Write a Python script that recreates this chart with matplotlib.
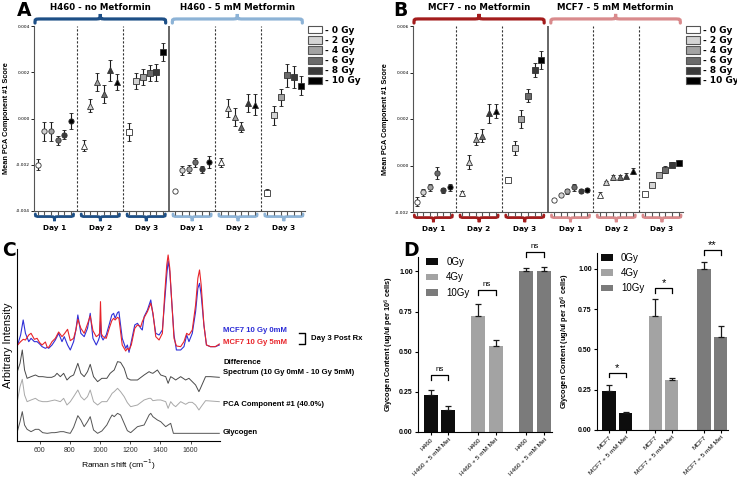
import numpy as np
import matplotlib
matplotlib.use('Agg')
import matplotlib.pyplot as plt
import matplotlib.transforms as mtransforms
from matplotlib.path import Path
from matplotlib.patches import PathPatch, Patch
from matplotlib.lines import Line2D

plt.rcParams['font.family'] = ['Liberation Sans', 'DejaVu Sans']

# ---------------- data: panels A / B (mean PCA score, 6 groups x 6 doses)
doses = ['- 0 Gy', '- 2 Gy', '- 4 Gy', '- 6 Gy', '- 8 Gy', '- 10 Gy']
dose_colors = ['#ffffff', '#d4d4d4', '#a3a3a3', '#6b6b6b', '#3a3a3a', '#000000']
days = ['Day 1', 'Day 2', 'Day 3']
day_markers = ['o', '^', 's']

h460_mean = [
    [-0.00199, -0.00056, -0.00056, -0.00094, -0.00070, -0.00012],
    [-0.00117, 0.00056, 0.00157, 0.00105, 0.00209, 0.00158],
    [-0.00059, 0.00163, 0.00180, 0.00197, 0.00199, 0.00288],
    [-0.00312, -0.00224, -0.00219, -0.00190, -0.00220, -0.00187],
    [-0.00190, 0.00046, 0.00006, -0.00037, 0.00066, 0.00059],
    [-0.00320, 0.00014, 0.00091, 0.00186, 0.00180, 0.00142],
]
h460_err = [
    [0.00024, 0.00040, 0.00040, 0.00020, 0.00020, 0.00035],
    [0.00025, 0.00030, 0.00040, 0.00040, 0.00045, 0.00035],
    [0.00040, 0.00035, 0.00035, 0.00035, 0.00035, 0.00040],
    [0.00000, 0.00020, 0.00018, 0.00018, 0.00015, 0.00025],
    [0.00018, 0.00040, 0.00040, 0.00020, 0.00038, 0.00045],
    [0.00015, 0.00040, 0.00035, 0.00048, 0.00048, 0.00040],
]
mcf7_mean = [
    [-0.00156, -0.00116, -0.00094, -0.00033, -0.00107, -0.00094],
    [-0.00120, 0.00017, 0.00113, 0.00129, 0.00224, 0.00233],
    [-0.00061, 0.00074, 0.00200, 0.00301, 0.00410, 0.00454],
    [-0.00147, -0.00127, -0.00111, -0.00094, -0.00110, -0.00106],
    [-0.00126, -0.00073, -0.00051, -0.00051, -0.00044, -0.00023],
    [-0.00123, -0.00083, -0.00039, -0.00019, 0.00004, 0.00011],
]
mcf7_err = [
    [0.00020, 0.00015, 0.00015, 0.00025, 0.00012, 0.00015],
    [0.00012, 0.00030, 0.00025, 0.00030, 0.00040, 0.00030],
    [0.00010, 0.00030, 0.00038, 0.00030, 0.00030, 0.00040],
    [0.00000, 0.00005, 0.00010, 0.00015, 0.00010, 0.00008],
    [0.00010, 0.00005, 0.00010, 0.00010, 0.00010, 0.00012],
    [0.00010, 0.00010, 0.00005, 0.00015, 0.00012, 0.00012],
]

# ---------------- data: panel C (spectra, arbitrary offset units)
raman_top = [452, 474, 491, 506, 528, 543, 565, 583, 600, 616, 638, 650, 660, 682, 704,
             726, 748, 763, 785, 803, 825, 840, 853, 873, 895, 917, 935, 953, 975, 990,
             997, 1003, 1009, 1020, 1041, 1063, 1078, 1090, 1100, 1116, 1125, 1136, 1147,
             1170, 1181, 1192, 1207, 1230, 1248, 1270, 1280, 1292, 1314, 1336, 1351, 1369,
             1391, 1413, 1428, 1442, 1451, 1462, 1475, 1490, 1506, 1534, 1556, 1574, 1589,
             1611, 1633, 1648, 1659, 1670, 1688, 1705, 1731, 1764, 1790]
mcf7_0mM = [285, 318, 363, 323, 298, 308, 298, 298, 291, 283, 278, 281, 278, 288, 303,
            323, 298, 313, 288, 273, 298, 333, 378, 323, 313, 338, 383, 308, 288, 303,
            313, 360, 313, 303, 318, 353, 378, 383, 368, 385, 388, 348, 308,
            278, 288, 266, 298, 348, 353, 338, 333, 373, 393, 423, 378, 323,
            318, 333, 418, 498, 540, 508, 418, 318, 273, 273, 283, 318, 298,
            323, 388, 458, 473, 438, 348, 288, 283, 283, 288]
mcf7_5mM = [287, 298, 305, 303, 318, 323, 305, 308, 295, 288, 297, 281, 281, 298, 308,
            327, 313, 321, 335, 301, 308, 333, 365, 338, 323, 351, 375, 331, 313, 318,
            323, 418, 321, 313, 308, 341, 361, 368, 363, 371, 368, 328, 288,
            270, 278, 273, 288, 338, 348, 343, 358, 370, 388, 413, 383, 313,
            303, 323, 438, 528, 558, 518, 418, 308, 285, 283, 298, 323, 318,
            333, 408, 488, 513, 468, 348, 288, 283, 283, 291]

raman_low = [452, 470, 485, 500, 517, 543, 572, 594, 620, 650, 680, 700, 715, 737, 759,
             781, 803, 825, 853, 873, 895, 917, 935, 957, 984, 1012, 1045, 1067, 1080,
             1094, 1116, 1136, 1160, 1181, 1203, 1248, 1292, 1325, 1336, 1350, 1380, 1402,
             1435, 1451, 1468, 1486, 1501, 1534, 1567, 1589, 1611, 1633, 1655, 1670, 1699,
             1731, 1790]
difference = [208, 233, 273, 213, 188, 193, 198, 193, 193, 191, 191, 195, 203, 193, 203,
              183, 193, 198, 233, 203, 193, 208, 230, 193, 178, 188, 188, 203, 208,
              213, 238, 236, 218, 188, 183, 183, 198, 208, 205, 203, 213, 198,
              193, 173, 193, 188, 183, 193, 183, 188, 178, 168, 148, 163, 193,
              193, 191]
pca_comp1 = [118, 163, 185, 138, 118, 123, 128, 121, 118, 118, 121, 123, 121, 118, 128,
             108, 118, 133, 153, 133, 123, 133, 153, 118, 108, 118, 118, 133, 143,
             148, 158, 148, 133, 115, 103, 108, 123, 128, 128, 121, 123, 123,
             118, 98, 118, 108, 103, 118, 110, 116, 116, 108, 93, 103, 121,
             120, 118]
glycogen = [28, 58, 88, 48, 35, 28, 35, 35, 25, 23, 25, 25, 26, 28, 28,
            25, 23, 41, 76, 63, 43, 58, 73, 33, 23, 30, 48, 68, 78,
            73, 83, 78, 53, 31, 25, 43, 48, 78, 83, 73, 63, 58,
            43, 48, 53, 23, 23, 23, 23, 23, 23, 23, 23, 23, 23,
            23, 23]

# ---------------- data: panel D (glycogen content)
gly_legend = ['0Gy', '4Gy', '10Gy']
gly_colors = ['#0d0d0d', '#a3a3a3', '#7b7b7b']
h460_labels = ['H460', 'H460 + 5 mM Met'] * 3
h460_gly = [0.23, 0.14, 0.72, 0.535, 1.00, 1.00]
h460_gly_err = [0.03, 0.025, 0.08, 0.04, 0.02, 0.025]
h460_sig = ['ns', 'ns', 'ns']
mcf7_labels = ['MCF7', 'MCF7 + 5 mM Met'] * 3
mcf7_gly = [0.24, 0.105, 0.71, 0.31, 1.00, 0.575]
mcf7_gly_err = [0.04, 0.005, 0.10, 0.01, 0.04, 0.07]
mcf7_sig = ['*', '*', '**']

W, H = 737, 482
fig = plt.figure(figsize=(W / 100, H / 100), dpi=100)


def px_axes(l, t, r, b):
    return fig.add_axes([l / W, 1 - b / H, (r - l) / W, (b - t) / H])


def brace(ax, x0, x1, y0, y1, y2, r, color, lw):
    xm = (x0 + x1) / 2
    verts = [(x0, y0), (x0, y1), (x0, y1), (x0 + r, y1), (xm - r, y1),
             (xm, y1), (xm, y1), (xm, y2),
             (xm, y1), (xm, y1), (xm + r, y1), (x1 - r, y1),
             (x1, y1), (x1, y1), (x1, y0)]
    C, L = Path.CURVE4, Path.LINETO
    codes = [Path.MOVETO, C, C, C, L, C, C, C, C, C, C, L, C, C, C]
    trans = mtransforms.blended_transform_factory(ax.transData, ax.transAxes)
    ax.add_patch(PathPatch(Path(verts, codes), fill=False, ec=color, lw=lw,
                           transform=trans, clip_on=False, capstyle='round'))


def pca_panel(ax, means, errs, titles, dark, light, yticks):
    step = 6.85
    xs_all = []
    for g in range(6):
        xs = [g * step + i for i in range(6)]
        xs_all += xs
        for i in range(6):
            ms = [3.8, 4.3, 4.4][g % 3]
            ax.errorbar(xs[i], means[g][i], yerr=errs[g][i], fmt=day_markers[g % 3],
                        ms=ms, mfc=dose_colors[i], mec='#333333', mew=0.6,
                        ecolor='#1a1a1a', elinewidth=0.8, capsize=1.6, capthick=0.8)
        col = dark if g < 3 else light
        brace(ax, xs[0] - 0.35, xs[-1] + 0.35, -0.016, -0.03, -0.055, 0.8, col, 2.0)
        trans = mtransforms.blended_transform_factory(ax.transData, ax.transAxes)
        ax.text((xs[0] + xs[-1]) / 2, -0.093, days[g % 3], transform=trans,
                ha='center', va='center', fontsize=5.3, fontweight='bold',
                family='DejaVu Sans')
    for g in [1, 2, 4, 5]:
        ax.axvline(g * step - 0.925, color='#333333', lw=0.8, ls=(0, (2, 1.6)))
    ax.axvline(3 * step - 0.925, color='#666666', lw=1.4)
    brace(ax, -0.4, 19.1, 1.016, 1.038, 1.065, 0.9, dark, 2.3)
    brace(ax, 20.1, 39.5, 1.016, 1.038, 1.065, 0.9, light, 2.3)
    trans = mtransforms.blended_transform_factory(ax.transData, ax.transAxes)
    ax.text(9.35, 1.10, titles[0], transform=trans, ha='center', va='center',
            fontsize=6.2, fontweight='bold', family='DejaVu Sans')
    ax.text(29.8, 1.10, titles[1], transform=trans, ha='center', va='center',
            fontsize=6.2, fontweight='bold', family='DejaVu Sans')
    ax.set_xlim(-0.55, 39.9)
    ax.set_ylim(yticks[0], yticks[-1])
    ax.set_xticks(xs_all)
    ax.set_xticklabels([])
    ax.set_yticks(yticks)
    ax.set_yticklabels(['%.3f' % v for v in yticks], fontsize=3.2, family='DejaVu Sans')
    ax.tick_params(axis='x', length=3, width=0.8, color='#555555')
    ax.tick_params(axis='y', length=2, width=0.6, pad=1)
    for s in ['top', 'right']:
        ax.spines[s].set_visible(False)
    for s in ['left', 'bottom']:
        ax.spines[s].set_color('#555555')
    ax.set_ylabel('Mean PCA Component #1 Score', fontsize=5.3, fontweight='bold', labelpad=4)
    handles = [Patch(fc=c, ec='#555555', lw=0.8) for c in dose_colors]
    ax.legend(handles, doses, loc='upper left', bbox_to_anchor=(1.01, 1.0), frameon=False,
              prop=dict(family='DejaVu Sans', weight='bold', size=6.5), handlelength=1.6,
              handleheight=0.85, handletextpad=0.3, labelspacing=0.12, borderaxespad=0,
              borderpad=0)


axa = px_axes(34, 26, 305, 211)
pca_panel(axa, h460_mean, h460_err, ['H460 - no Metformin', 'H460 - 5 mM Metformin'],
          '#1d4f86', '#8db3d6', [-0.004, -0.002, 0.0, 0.002, 0.004])
axb = px_axes(413, 26, 683, 212)
pca_panel(axb, mcf7_mean, mcf7_err, ['MCF7 - no Metformin', 'MCF7 - 5 mM Metformin'],
          '#a31c1c', '#d98a8c', [-0.002, 0.0, 0.002, 0.004, 0.006])

# ---------------- panel C
axc = px_axes(17, 249.3, 219.6, 441)
axc.plot(raman_top, mcf7_0mM, color='#3030d8', lw=0.8)
axc.plot(raman_top, mcf7_5mM, color='#e8242a', lw=0.8)
axc.plot(raman_low, difference, color='#4a4a4a', lw=0.7)
axc.plot(raman_low, pca_comp1, color='#a8a8a8', lw=0.7)
axc.plot(raman_low, glycogen, color='#555555', lw=0.7)
axc.set_xlim(450, 1792)
axc.set_ylim(0, 575)
axc.set_yticks([])
axc.set_xticks([600, 800, 1000, 1200, 1400, 1600])
axc.tick_params(axis='x', labelsize=5, length=2, width=0.6, pad=2, colors='#333333')
for s in ['top', 'right']:
    axc.spines[s].set_visible(False)
axc.set_ylabel('Arbitrary Intensity', fontsize=7.8, labelpad=3)
axc.set_xlabel('Raman shift (cm$^{-1}$)', fontsize=6.1, labelpad=3)

lab = dict(fontsize=5.6, fontweight='bold', va='center', ha='left')
fig.text(223 / W, 1 - 331 / H, 'MCF7 10 Gy 0mM', color='#2b2bd6', **lab)
fig.text(223 / W, 1 - 343 / H, 'MCF7 10 Gy 5mM', color='#e8242a', **lab)
fig.add_artist(Line2D(np.array([299, 305, 305, 299]) / W,
                      1 - np.array([333, 333, 344, 344]) / H, color='k', lw=1.0))
fig.text(311 / W, 1 - 338.5 / H, 'Day 3 Post Rx', **lab)
fig.text(223 / W, 1 - 362 / H, 'Difference', **lab)
fig.text(223 / W, 1 - 373 / H, 'Spectrum (10 Gy 0mM - 10 Gy 5mM)', **lab)
fig.text(223 / W, 1 - 405 / H, 'PCA Component #1 (40.0%)', **lab)
fig.text(223 / W, 1 - 432 / H, 'Glycogen', **lab)


# ---------------- panel D
def glyco_panel(ax, xpos, vals, errs, labels, sig, sig_y, ytop, label_x, leg_x):
    cols = [gly_colors[k // 2] for k in range(6)]
    ax.bar(xpos, vals, width=0.8, color=cols)
    ax.errorbar(xpos, vals, yerr=[np.zeros(6), errs], fmt='none', ecolor='#1a1a1a',
                elinewidth=0.9, capsize=2, capthick=0.9)
    for k in range(3):
        xa, xb = xpos[2 * k], xpos[2 * k + 1]
        y = sig_y[k]
        ax.plot([xa, xa, xb, xb], [y - 0.03, y, y, y - 0.03], color='k', lw=0.9,
                clip_on=False)
        star = sig[k].startswith('*')
        ax.text((xa + xb) / 2, y + (0.0 if star else 0.012), sig[k], ha='center',
                va='bottom', fontsize=8 if star else 5.8, clip_on=False)
    ax.set_ylim(0, ytop)
    ax.set_xlim(xpos[0] - 0.75, xpos[-1] + 0.45)
    ax.set_yticks([0, 0.25, 0.5, 0.75, 1.0])
    ax.set_yticklabels(['0.00', '0.25', '0.50', '0.75', '1.00'], fontsize=5,
                       fontweight='bold')
    ax.set_xticks(xpos)
    ax.set_xticklabels(labels, rotation=45, ha='right', rotation_mode='anchor',
                       fontsize=4.6)
    ax.tick_params(length=2.5, width=0.8, pad=1)
    for s in ['top', 'right']:
        ax.spines[s].set_visible(False)
    ax.set_ylabel('Glycogen Content (ug/ul per 10$^6$ cells)', fontsize=5.3,
                  fontweight='bold')
    ax.yaxis.set_label_coords(label_x, 0.5)
    handles = [Patch(fc=c, ec='none') for c in gly_colors]
    ax.legend(handles, gly_legend, loc='upper left', bbox_to_anchor=(leg_x, 1.0),
              frameon=False, fontsize=7, handlelength=1.3, handleheight=0.7,
              handletextpad=0.8, labelspacing=0.55, borderaxespad=0, borderpad=0)


axd1 = px_axes(417.7, 257, 552, 432)
glyco_panel(axd1, [0, 1, 2.7, 3.7, 5.4, 6.45], h460_gly, h460_gly_err, h460_labels,
            h460_sig, [0.356, 0.883, 1.12], 1.09, -0.165, 0.06)
axd2 = px_axes(596.7, 252.7, 728, 430)
glyco_panel(axd2, [0, 1, 2.8, 3.8, 5.75, 6.75], mcf7_gly, mcf7_gly_err, mcf7_labels,
            mcf7_sig, [0.356, 0.88, 1.115], 1.10, -0.19, 0.03)

# ---------------- panel letters
for x, y, t in [(17, 11, 'A'), (393, 11, 'B'), (2, 250, 'C'), (403, 251, 'D')]:
    fig.text(x / W, 1 - y / H, t, fontsize=13.5, fontweight='bold', va='center',
             ha='left', family='DejaVu Sans')

fig.savefig('out.png', dpi=100)
